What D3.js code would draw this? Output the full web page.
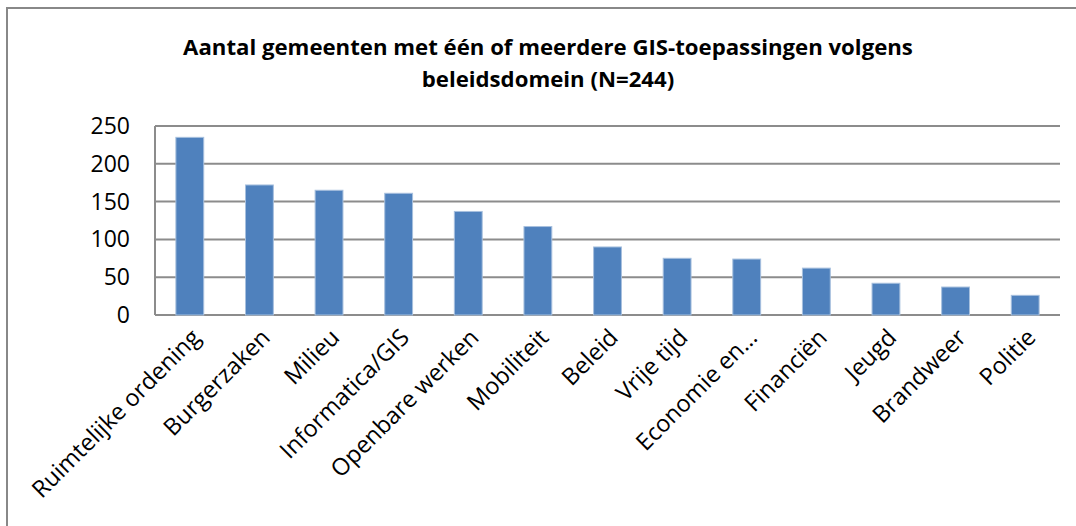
<!DOCTYPE html>
<html>
<head>
<meta charset="utf-8">
<script src="https://cdn.jsdelivr.net/npm/d3@7"></script>
<style>
  body { margin: 0; background: #fff; }
  svg { display: block; }
</style>
</head>
<body>
<svg id="chart"></svg>
<script>
const titleLines = ['Aantal gemeenten met één of meerdere GIS-toepassingen volgens', 'beleidsdomein (N=244)'];
const categories = ['Ruimtelijke ordening', 'Burgerzaken', 'Milieu', 'Informatica/GIS', 'Openbare werken', 'Mobiliteit', 'Beleid', 'Vrije tijd', 'Economie en…', 'Financiën', 'Jeugd', 'Brandweer', 'Politie'];
const values = [235, 172, 165, 161, 137, 117, 90, 75, 74, 62, 42, 37, 26];
const yTicks = [0, 50, 100, 150, 200, 250];

const width = 1076, height = 526;
const margin = { top: 126, right: 16, bottom: 211, left: 155 };
const font = '"Open Sans", sans-serif';

const svg = d3.select('#chart')
  .attr('width', width)
  .attr('height', height);

// outer chart frame (runs off the right and bottom edges)
svg.append('rect')
  .attr('x', 7)
  .attr('y', 8)
  .attr('width', width + 20)
  .attr('height', height + 20)
  .attr('fill', 'none')
  .attr('stroke', '#888')
  .attr('stroke-width', 2);

svg.append('text')
  .attr('x', 548)
  .attr('font-family', font)
  .attr('font-weight', 'bold')
  .attr('font-size', 22.2)
  .attr('text-anchor', 'middle')
  .attr('fill', '#000')
  .selectAll('tspan')
  .data(titleLines)
  .enter()
  .append('tspan')
  .attr('x', 548)
  .attr('y', (d, i) => 55 + i * 32)
  .text(d => d);

const x = d3.scaleBand()
  .domain(categories)
  .range([margin.left, width - margin.right]);

const y = d3.scaleLinear()
  .domain([0, 250])
  .range([height - margin.bottom, margin.top]);

const g = svg.append('g');

// gridlines
g.selectAll('.grid')
  .data(yTicks)
  .enter()
  .append('line')
  .attr('class', 'grid')
  .attr('x1', margin.left)
  .attr('x2', width - margin.right)
  .attr('y1', d => y(d))
  .attr('y2', d => y(d))
  .attr('stroke', '#8c8c8c')
  .attr('stroke-width', 2);

// vertical axis line
g.append('line')
  .attr('x1', margin.left)
  .attr('x2', margin.left)
  .attr('y1', y(250))
  .attr('y2', y(0))
  .attr('stroke', '#8c8c8c')
  .attr('stroke-width', 2);

// y labels
g.selectAll('.ylab')
  .data(yTicks)
  .enter()
  .append('text')
  .attr('class', 'ylab')
  .attr('x', 130)
  .attr('y', d => y(d))
  .attr('dy', '0.35em')
  .attr('text-anchor', 'end')
  .attr('font-family', font)
  .attr('font-size', 23)
  .attr('fill', '#000')
  .text(d => d);

// bars (gap width 150%)
const barW = x.bandwidth() * 0.4;
g.selectAll('.bar')
  .data(values)
  .enter()
  .append('rect')
  .attr('class', 'bar')
  .attr('x', (d, i) => x(categories[i]) + x.bandwidth() / 2 - barW / 2)
  .attr('y', d => y(d))
  .attr('width', barW)
  .attr('height', d => y(0) - y(d))
  .attr('fill', '#4f81bd')
  .attr('stroke', '#a7c0de')
  .attr('stroke-width', 1);

// category labels, rotated
g.selectAll('.xlab')
  .data(categories)
  .enter()
  .append('text')
  .attr('class', 'xlab')
  .attr('transform', d => `translate(${x(d) + x.bandwidth() / 2 + 12},${y(0) + 24}) rotate(-45)`)
  .attr('text-anchor', 'end')
  .attr('font-family', font)
  .attr('font-size', 23.5)
  .attr('fill', '#000')
  .text(d => d);
</script>
</body>
</html>
